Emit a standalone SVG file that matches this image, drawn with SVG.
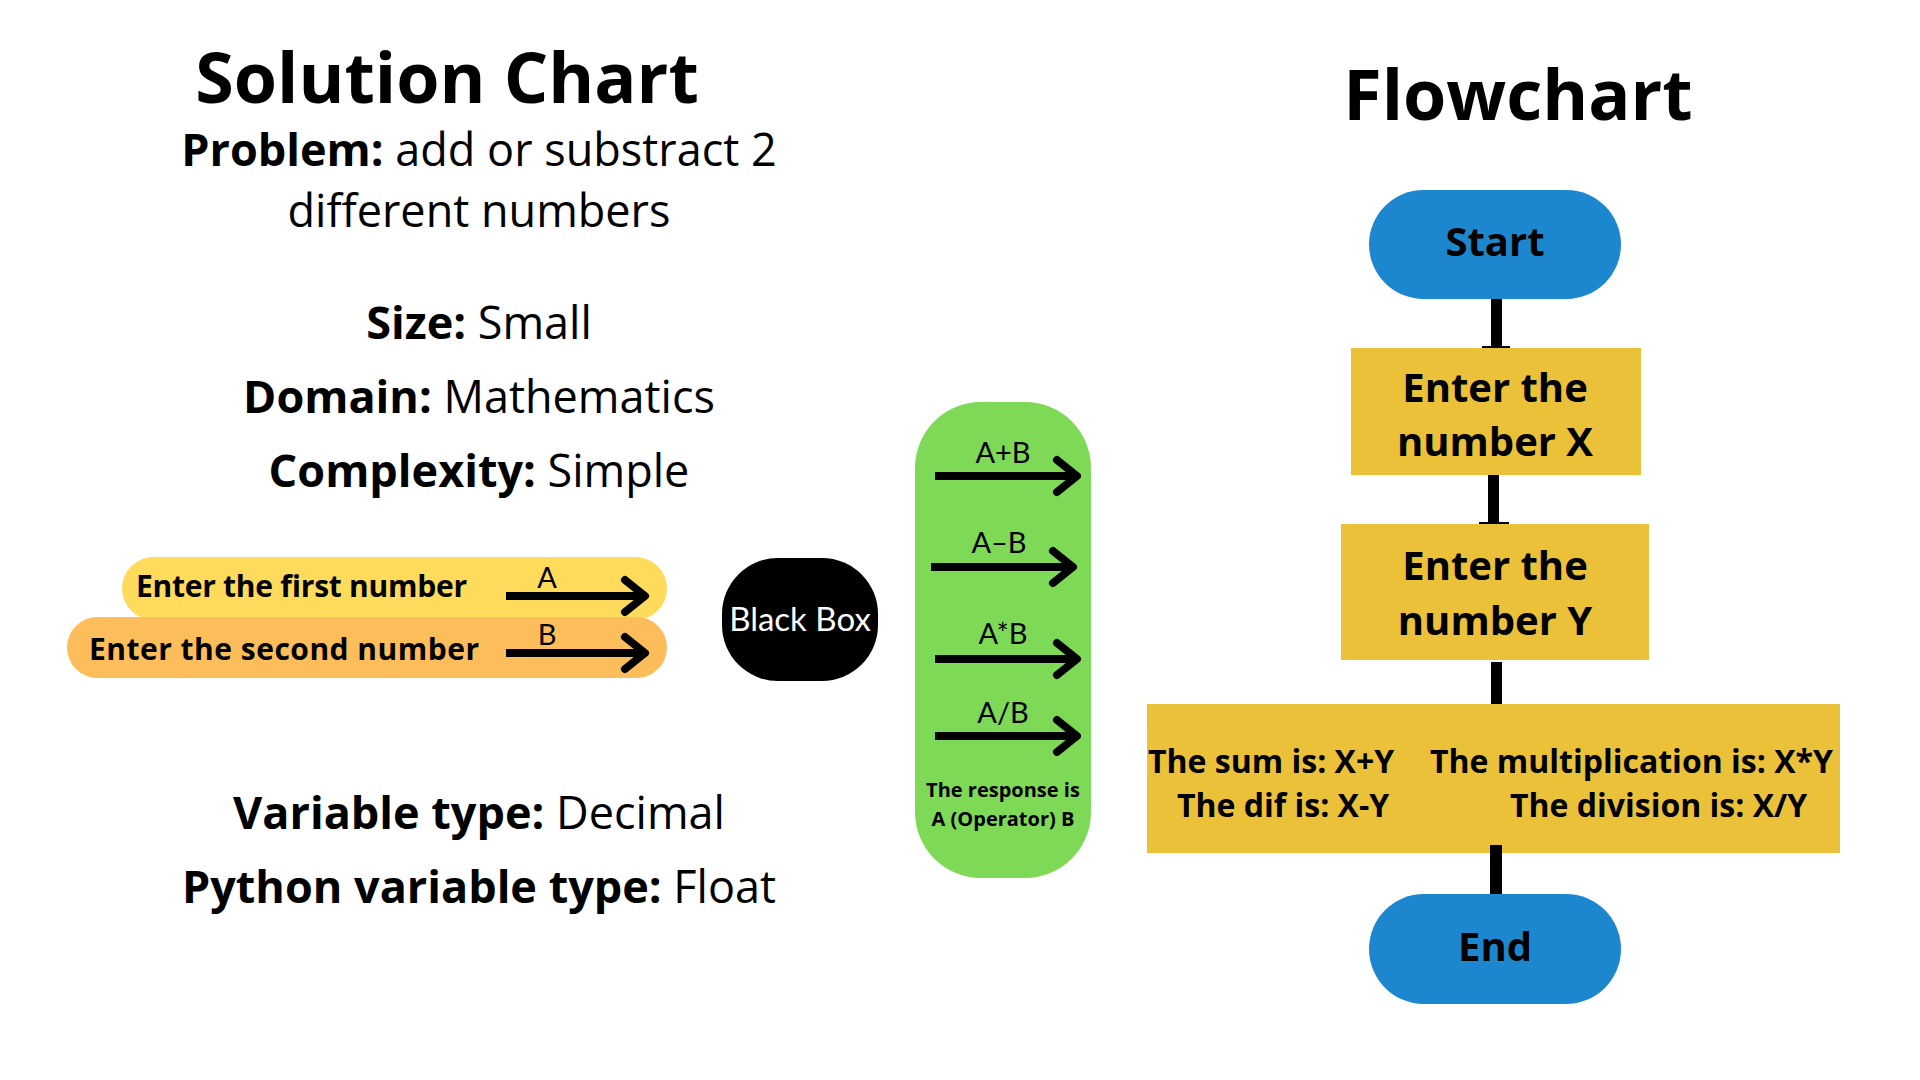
<svg xmlns="http://www.w3.org/2000/svg" width="1920" height="1080" viewBox="0 0 1920 1080">
<defs>
<style>
.t{font-family:"Open Sans","Liberation Sans",sans-serif;fill:#000}
.b{font-weight:700}
.h{font-size:70px;font-weight:700;text-anchor:middle}
.info{font-size:45px;text-anchor:middle}
.pill{font-size:30px;font-weight:700}
.lbl{font-family:Lato,"Open Sans",sans-serif;font-size:29px;text-anchor:middle;fill:#000}
.arr{fill:none;stroke:#000;stroke-width:8}
.head{fill:none;stroke:#000;stroke-width:8;stroke-linecap:round;stroke-linejoin:round}
.fc{font-size:40px;font-weight:700;text-anchor:middle}
.res{font-size:32px;font-weight:700}
.con{fill:#000}
</style>
</defs>
<rect width="1920" height="1080" fill="#fff"/>

<g id="solution-info">
<text class="t h" x="447" y="103">Solution Chart</text>
<text class="t info" x="479" y="166"><tspan class="b">Problem:</tspan> add or substract 2</text>
<text class="t info" x="479" y="227">different numbers</text>
<text class="t info" x="479" y="339"><tspan class="b">Size:</tspan> Small</text>
<text class="t info" x="479" y="413"><tspan class="b">Domain:</tspan> Mathematics</text>
<text class="t info" x="479" y="487"><tspan class="b">Complexity:</tspan> Simple</text>
<text class="t info" x="479" y="829"><tspan class="b">Variable type:</tspan> Decimal</text>
<text class="t info" x="479" y="903"><tspan class="b">Python variable type:</tspan> Float</text>
</g>

<g id="flowchart-title">
<text class="t h" x="1518" y="120">Flowchart</text>
</g>

<g id="input-first">
<rect x="122" y="557" width="545" height="63" rx="31.5" fill="#FEDB5A"/>
<text class="t pill" x="136" y="597" textLength="331">Enter the first number</text>
</g>
<g id="input-second">
<rect x="67" y="617" width="600" height="61" rx="30.5" fill="#FDBD5B"/>
<text class="t pill" x="89" y="660" textLength="390">Enter the second number</text>
</g>

<g id="black-box">
<rect x="722" y="558" width="156" height="123" rx="56" fill="#000"/>
<text x="800" y="631" font-family="Lato,'Open Sans',sans-serif" font-size="33" fill="#fff" text-anchor="middle">Black Box</text>
</g>

<g id="operations">
<rect x="915" y="402" width="176" height="476" rx="66" fill="#7ED957"/>
<text class="t" x="1003" y="797" font-size="20" font-weight="700" text-anchor="middle">The response is</text>
<text class="t" x="1003" y="826" font-size="20" font-weight="700" text-anchor="middle">A (Operator) B</text>
</g>

<g id="start">
<rect x="1369" y="190" width="252" height="109" rx="54.5" fill="#1C87CF"/>
<text class="t fc" x="1495" y="256">Start</text>
</g>
<g id="enter-x">
<rect x="1351" y="348" width="290" height="127" fill="#EBC13A"/>
<text class="t fc" x="1495" y="402">Enter the</text>
<text class="t fc" x="1495" y="456">number X</text>
</g>
<g id="enter-y">
<rect x="1341" y="524" width="308" height="136" fill="#EBC13A"/>
<text class="t fc" x="1495" y="580">Enter the</text>
<text class="t fc" x="1495" y="635">number Y</text>
</g>
<g id="results">
<rect x="1147" y="704" width="693" height="149" fill="#EBC13A"/>
<text class="t res" x="1148" y="773">The sum is: X+Y</text>
<text class="t res" x="1177" y="817">The dif is: X-Y</text>
<text class="t res" x="1430" y="773">The multiplication is: X*Y</text>
<text class="t res" x="1510" y="817">The division is: X/Y</text>
</g>
<g id="end">
<rect x="1369" y="894" width="252" height="110" rx="55" fill="#1C87CF"/>
<text class="t fc" x="1495" y="961">End</text>
</g>

<g id="connectors">
<line class="arr" x1="506" y1="596" x2="643" y2="596"/>
<polyline class="head" points="625,580 645,596 625,612"/>
<text class="lbl" x="547" y="588">A</text>
<line class="arr" x1="506" y1="653" x2="643" y2="653"/>
<polyline class="head" points="625,637 645,653 625,669"/>
<text class="lbl" x="547" y="645">B</text>

<line class="arr" x1="935" y1="476" x2="1075" y2="476"/>
<polyline class="head" points="1057,460 1077,476 1057,492"/>
<text class="lbl" x="1003" y="463">A+B</text>
<line class="arr" x1="931" y1="567" x2="1071" y2="567"/>
<polyline class="head" points="1053,551 1073,567 1053,583"/>
<text class="lbl" x="999" y="553">A–B</text>
<line class="arr" x1="935" y1="659" x2="1075" y2="659"/>
<polyline class="head" points="1057,643 1077,659 1057,675"/>
<text class="lbl" x="1003" y="644">A*B</text>
<line class="arr" x1="935" y1="736" x2="1075" y2="736"/>
<polyline class="head" points="1057,720 1077,736 1057,752"/>
<text class="lbl" x="1003" y="723">A/B</text>

<rect class="con" x="1491" y="299" width="11" height="49"/>
<rect class="con" x="1482" y="346" width="28" height="2"/>
<rect class="con" x="1488" y="475" width="11" height="49"/>
<rect class="con" x="1479" y="522" width="30" height="2"/>
<rect class="con" x="1491" y="662" width="11" height="42"/>
<rect class="con" x="1490" y="845" width="12" height="49"/>
</g>
</svg>
